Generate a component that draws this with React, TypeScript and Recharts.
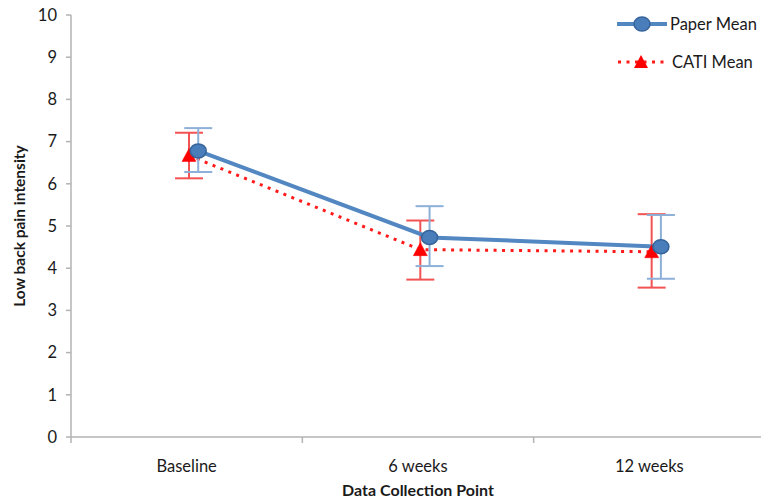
import React from 'react';
import { ComposedChart, Line, XAxis, YAxis, ErrorBar, Legend } from 'recharts';

const categories = ['Baseline', '6 weeks', '12 weeks'];
const paperMean = [6.78, 4.73, 4.51];
const paperHigh = [7.32, 5.47, 5.26];
const paperLow = [6.28, 4.05, 3.75];
const catiMean = [6.67, 4.44, 4.39];
const catiHigh = [7.21, 5.13, 5.28];
const catiLow = [6.13, 3.73, 3.54];
const yTicks = [0, 1, 2, 3, 4, 5, 6, 7, 8, 9, 10];
const xTicks = [0, 0.5, 1, 1.5, 2, 2.5, 3];

const PAPER_SHIFT = 0.05;
const CATI_SHIFT = 0.01;

const paperData = categories.map((c, i) => ({
  x: i + 0.5 + PAPER_SHIFT,
  name: c,
  value: paperMean[i],
  err: [paperMean[i] - paperLow[i], paperHigh[i] - paperMean[i]],
}));
const catiData = categories.map((c, i) => ({
  x: i + 0.5 + CATI_SHIFT,
  name: c,
  value: catiMean[i],
  err: [catiMean[i] - catiLow[i], catiHigh[i] - catiMean[i]],
}));

const AXIS = '#b3b3b3';
const TEXT = '#1a1a1a';
const BLUE = '#5287c2';
const BLUE_DOT = '#4a7ebb';
const BLUE_DOT_STROKE = '#35649a';
const BLUE_ERR = '#8db0d8';
const RED = '#ff1a1a';
const RED_ERR = '#f25252';
const FONT = 'Lato, "Open Sans", sans-serif';

const PaperDot = (props: any) => {
  const { cx, cy, index } = props;
  if (cx == null || cy == null) return null;
  return (
    <ellipse key={`pd-${index}`} cx={cx} cy={cy} rx={8} ry={7} fill={BLUE_DOT} stroke={BLUE_DOT_STROKE} strokeWidth={1.5} />
  );
};

const CatiDot = (props: any) => {
  const { cx, cy, index } = props;
  if (cx == null || cy == null) return null;
  return (
    <polygon
      key={`cd-${index}`}
      points={`${cx},${cy - 7} ${cx - 7},${cy + 6} ${cx + 7},${cy + 6}`}
      fill="#ff0000"
      stroke="#ff0000"
      strokeWidth={0.5}
    />
  );
};

const XTick = (props: any) => {
  const { x, y, payload } = props;
  const v = payload.value;
  if (Number.isInteger(v)) {
    return <line x1={x} y1={y} x2={x} y2={y + 6} stroke={AXIS} strokeWidth={1.5} />;
  }
  const idx = Math.floor(v);
  return (
    <text x={x} y={y + 35} textAnchor="middle" fill={TEXT} fontSize={16.5} fontFamily={FONT}>
      {categories[idx]}
    </text>
  );
};

const YTitle = (props: any) => {
  const { viewBox } = props;
  const cx = viewBox.x + 19;
  const cy = viewBox.y + viewBox.height / 2;
  return (
    <text
      x={cx}
      y={cy}
      transform={`rotate(-90, ${cx}, ${cy})`}
      textAnchor="middle"
      dominantBaseline="central"
      fontWeight="bold"
      fontSize={15.5}
      fill={TEXT}
      fontFamily={FONT}
    >
      Low back pain intensity
    </text>
  );
};

const XTitle = (props: any) => {
  const { viewBox } = props;
  const cx = viewBox.x + viewBox.width / 2;
  const cy = viewBox.y + 59;
  return (
    <text x={cx} y={cy} textAnchor="middle" fontWeight="bold" fontSize={16} fill={TEXT} fontFamily={FONT}>
      Data Collection Point
    </text>
  );
};

const LegendContent = () => (
  <div style={{ fontFamily: FONT, fontSize: 16.5, color: TEXT, whiteSpace: 'nowrap' }}>
    <div style={{ display: 'flex', alignItems: 'center', height: 38 }}>
      <svg width={54} height={20} style={{ display: 'block', flex: 'none' }}>
        <line x1={2} y1={10} x2={52} y2={10} stroke={BLUE} strokeWidth={4} />
        <ellipse cx={27} cy={10} rx={8} ry={7} fill={BLUE_DOT} stroke={BLUE_DOT_STROKE} strokeWidth={1.5} />
      </svg>
      <span style={{ marginLeft: 1 }}>Paper Mean</span>
    </div>
    <div style={{ display: 'flex', alignItems: 'center', height: 38 }}>
      <svg width={54} height={20} style={{ display: 'block', flex: 'none' }}>
        <line x1={3} y1={10} x2={52} y2={10} stroke={RED} strokeWidth={3} strokeDasharray="3 5.5" />
        <polygon points="26,3 19,16 33,16" fill="#ff0000" />
      </svg>
      <span style={{ marginLeft: 3 }}>CATI Mean</span>
    </div>
  </div>
);

export default function App() {
  return (
    <div style={{ position: 'absolute', left: 0, top: 0, width: 761, height: 502, background: '#fff', fontFamily: FONT, overflow: 'hidden' }}>
      <ComposedChart width={761} height={502} margin={{ top: 15, right: -4, left: 0, bottom: 0 }}>
        <XAxis
          dataKey="x"
          type="number"
          domain={[0, 3]}
          ticks={xTicks}
          interval={0}
          allowDataOverflow
          tickSize={0}
          tickMargin={0}
          tickLine={false}
          axisLine={{ stroke: AXIS, strokeWidth: 1.5 }}
          tick={<XTick />}
          height={65}
          label={<XTitle />}
        />
        <YAxis
          type="number"
          domain={[0, 10]}
          ticks={yTicks}
          interval={0}
          width={71}
          tickSize={5}
          tickMargin={9}
          axisLine={{ stroke: AXIS, strokeWidth: 1.5 }}
          tickLine={{ stroke: AXIS, strokeWidth: 1.5 }}
          tick={{ fill: TEXT, fontSize: 16.5, fontFamily: FONT }}
          label={<YTitle />}
        />
        <Legend
          layout="vertical"
          align="center"
          verticalAlign="middle"
          wrapperStyle={{ top: 5, left: 615, width: 146 }}
          content={<LegendContent />}
        />
        <Line
          data={catiData}
          dataKey="value"
          name="CATI Mean"
          stroke={RED}
          strokeWidth={3}
          strokeDasharray="3 5.5"
          dot={<CatiDot />}
          activeDot={false}
          isAnimationActive={false}
        >
          <ErrorBar dataKey="err" direction="y" width={14} stroke={RED_ERR} strokeWidth={2} isAnimationActive={false} />
        </Line>
        <Line
          data={paperData}
          dataKey="value"
          name="Paper Mean"
          stroke={BLUE}
          strokeWidth={4}
          dot={<PaperDot />}
          activeDot={false}
          isAnimationActive={false}
        >
          <ErrorBar dataKey="err" direction="y" width={14} stroke={BLUE_ERR} strokeWidth={2} isAnimationActive={false} />
        </Line>
      </ComposedChart>
    </div>
  );
}
